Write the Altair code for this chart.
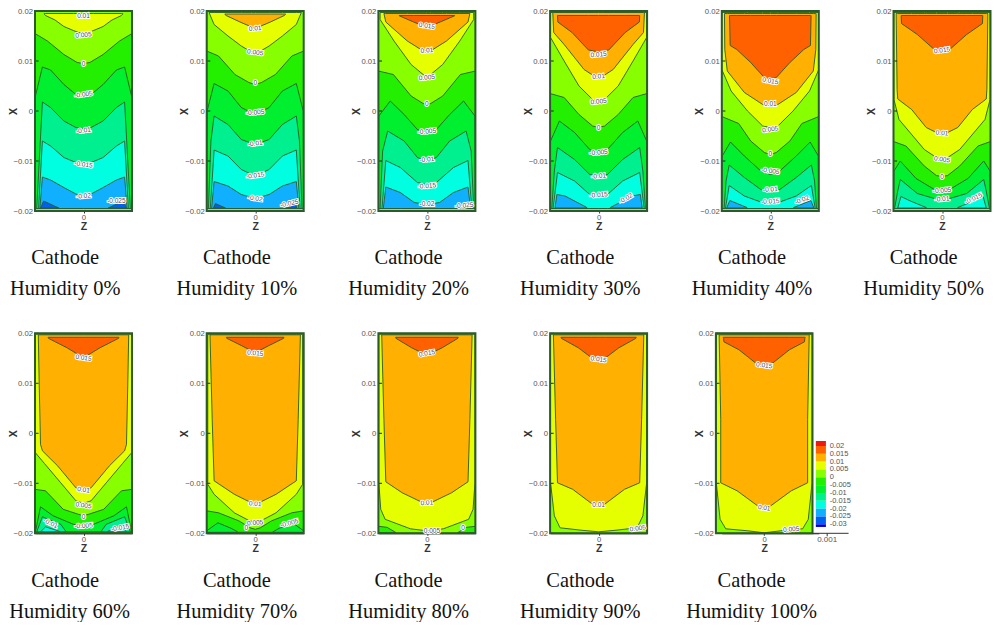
import altair as alt
import pandas as pd

# x values are in 1e-3, z values in 1e-5
BAND_LEVELS = [20, 15, 10, 5, 0, -5, -10, -15, -20, -25, -30, -35]
BAND_COLORS = ["#EE1A10", "#FF6000", "#FFB000", "#E6FF00", "#88FF00", "#22F000",
               "#00F030", "#00F090", "#00FFE0", "#10B0FF", "#0060F0", "#0000E0"]
TICK_TEXT = ["0.02", "0.015", "0.01", "0.005", "0", "-0.005", "-0.01", "-0.015", "-0.02", "-0.025", "-0.03"]
HUMIDITY = [0, 10, 20, 30, 40, 50, 60, 70, 80, 90, 100]

# (band, cap, z list, x list, twin)
P00 = [
 (5, 19.5, [62,60,45,31,16,8,0], [19.4,19.1,18.2,16.9,16.1,15.7,15.5], 0),
 (-5, -19.5, [76.7,57,31,10,0], [15.5,14,11.3,9.7,9.5], 0),
 (-10, -19.5, [76.7,76,65,52,31,12,0], [-19.5,3,8.8,8.2,5.3,3.3,3.1], 0),
 (-15, -19.5, [74,70,65,52,31,12,0], [-19.5,-10,1.8,0.7,-2,-3.3,-3.5], 0),
 (-20, -19.5, [71,65,52,31,12,0], [-19.5,-6,-7,-9.3,-10.3,-10.7], 0),
 (-25, -19.5, [69,65,52,31,12,0], [-19.5,-13.2,-13.8,-15.3,-16.6,-17], 0),
 (-30, -19.4, [68,63,39], [-19.4,-18,-19.4], 1),
]
P01 = [
 (5, 19.7, [73,65,43,22,6,0], [19.7,17.3,15,13,11.8,11.7], 0),
 (10, 19.4, [48,46,24,0], [19.35,19.1,17.8,16.5], 0),
 (-5, -19.5, [76.7,58,32,10,0], [12,11,7.3,5.7,5.3], 0),
 (-10, -19.5, [76.7,76,65,43,22,8,0], [-19.5,0,5.5,4,0.7,-0.2,-0.4], 0),
 (-15, -19.5, [74,70,65,43,22,0], [-19.5,-6,-1,-2.7,-5.7,-6.7], 0),
 (-20, -19.5, [71,65,43,22,0], [-19.5,-7.8,-9,-11.7,-13], 0),
 (-25, -19.5, [69,65,43,22,0], [-19.5,-14.1,-15,-16.7,-17.5], 0),
 (-30, -19.4, [66,63,47], [-19.4,-18.5,-19.4], 1),
]
P02 = [
 (5, 19.7, [74,52,25,6,0], [18.3,14,9.3,7.3,6.9], 0),
 (10, 19.5, [68,65,31,9.5,0], [19.5,17.8,14,12.3,12], 0),
 (15, 19.1, [44,43,21,0], [19.05,19,17.8,16.7], 0),
 (-5, -19.5, [76.7,53,25,6,0], [8,7.3,3,1.5,1.3], 0),
 (-10, -19.5, [76.7,76,58,36,15,0], [-19.5,-1,2,-0.7,-3.7,-4.3], 0),
 (-15, -19.5, [74,70,62,36,15,0], [-19.5,-8,-4,-6,-9.3,-10], 0),
 (-20, -19.5, [71,65,42,15,0], [-19.5,-9.9,-11.3,-14.3,-14.7], 0),
 (-25, -19.5, [69,65,42,20,0], [-19.5,-15.2,-16.3,-18.3,-18.7], 0),
]
P03 = [
 (5, 19.7, [76,54.5,31,9.5,0], [14.7,10,5,2.3,1.8], 0),
 (10, 19.7, [72.5,71,54.5,23,6,0], [19.7,15.7,13.3,8.3,6.9,6.7], 0),
 (15, 19.1, [65,64.5,42,16,0], [19.05,17.8,15.7,12.2,11.8], 0),
 (-5, -19.5, [76.7,54.5,31,9.5,0], [3.5,2.7,-0.7,-3,-3.3], 0),
 (-10, -19.5, [76.7,76,62,38,14,0], [-19.5,-6,-2,-4.3,-7.7,-8.5], 0),
 (-15, -19.5, [74,70,65,38,14,0], [-19.5,-12,-7.3,-9.7,-12.7,-13], 0),
 (-20, -19.5, [72,65,38,14,0], [-19.5,-12.3,-14,-16.7,-17], 0),
 (-25, -19.4, [69,66,53,18.5], [-19.4,-16.7,-17,-19.3], 1),
]
P04 = [
 (5, 19.7, [76.7,62,36,12,0], [8.3,4,0,-3,-3.3], 0),
 (10, 19.5, [72.5,72,68,41,12,0], [19.5,12.3,8,3.7,1.3,0.9], 0),
 (15, 19.1, [64.5,63.5,53,31,9.5,0], [19.05,13.1,12.3,9.7,6.7,6.3], 0),
 (-5, -19.5, [76.7,50,31,9.5,0], [-1.1,-2.5,-6,-8.3,-8.7], 0),
 (-10, -19.5, [76.7,76,63,41,15,0], [-19.5,-9,-6.2,-9,-12,-12.7], 0),
 (-15, -19.5, [73,70,65,41,15,0], [-19.5,-14,-10.8,-13.3,-15.7,-16], 0),
 (-20, -19.5, [71,65,41,15,0], [-19.5,-14.9,-17,-18.2,-18.3], 0),
 (-25, -19.4, [69,64,37], [-19.4,-17.9,-19.3], 1),
]
P05 = [
 (5, 19.7, [76,68,28,9,0], [2.3,-1.7,-7.7,-9.3,-9.5], 0),
 (10, 19.5, [72.5,71,70,48,25,9,0], [19.5,4.3,2.4,0.3,-3.3,-4.3,-4.9], 0),
 (15, 19.1, [64.5,64,39,9.5,0], [19.05,17.5,15.3,12,11.7], 0),
 (-5, -19.5, [76.7,57,28,9,0], [-6.1,-7,-11,-12.9,-13.1], 0),
 (-10, -19.5, [76.7,76,66,41,12,0], [-19.5,-12,-10,-13.5,-15.7,-16], 0),
 (-15, -19.5, [75,70,66,39,12,0], [-19.5,-16,-13.7,-16.5,-17.5,-17.9], 0),
 (-20, -19.4, [70,65,50,25], [-19.4,-17.1,-18,-19.3], 1),
]
P06 = [
 (5, 19.8, [76,62,36,12,0], [-3.9,-6,-9.9,-13.5,-14], 0),
 (10, 19.7, [71.5,70,68,65,41,12,0], [19.7,9.5,-2.2,-3.5,-6.5,-10.9,-11.3], 0),
 (15, 19.2, [56,55.5,26,0], [19.15,19,17.1,15.1], 0),
 (-5, -19.7, [76.7,60,32,8,0], [-11.2,-11.5,-15.2,-16.2,-16.5], 0),
 (-10, -19.7, [76,68,48,16,0], [-19.7,-14.7,-16.5,-18.2,-18.5], 0),
 (-15, -19.7, [74,65,36,28], [-19.7,-16.7,-18.2,-19.6], 1),
 (-20, -19.7, [68,60,38], [-19.7,-18.7,-19.6], 1),
]
P07 = [
 (5, 19.8, [75,65,33,9,0], [-10.2,-12.2,-15.9,-17.5,-17.7], 0),
 (10, 19.7, [71.5,68,65,33,6,0], [19.7,2.8,-9.5,-12.2,-13.9,-14.1], 0),
 (15, 19.2, [45.5,45,21,0], [19.15,19,17.5,16.1], 0),
 (-5, -19.8, [76.7,58,26,8,0], [-15.5,-15.9,-17.5,-18.9,-19.2], 0),
 (-10, -19.8, [76.7,59,38,28], [-19.5,-17.9,-19,-19.7], 1),
]
P08 = [
 (5, 19.8, [76,73,66,26,0], [-9.9,-15.2,-17.2,-19.1,-19.5], 0),
 (10, 19.7, [71.5,68,65,39,9.5,0], [19.7,2.8,-9.7,-11.9,-13.7,-14], 0),
 (15, 19.2, [49.5,49,24,0], [19.15,19,17.1,15.6], 0),
 (-5, -19.9, [76.7,63,49], [-18.6,-18.8,-19.85], 1),
]
P09 = [
 (5, 19.8, [76,70,61,26,0], [-9.9,-16.5,-18.9,-19.4,-19.7], 0),
 (10, 19.7, [71.5,68,65,41,9.5,0], [19.7,2.8,-9.9,-11.2,-14.2,-14.5], 0),
 (15, 19.2, [59.5,59,32,11,0], [19.15,19,17.1,15.1,14.3], 0),
]
P10 = [
 (5, 19.8, [76,70,61,26,0], [-9.9,-17.2,-19.1,-19.5,-19.9], 0),
 (10, 19.7, [71.5,69,69,43,10.5,0], [19.7,2.8,-9.9,-11.5,-14.5,-14.9], 0),
 (15, 19.2, [65,64.5,64,40,14,0], [19.15,19,18.3,16.7,14.1,13.5], 0),
]

# (z, x, text, angle)
L00 = [(0,19.1,"0.01",0),(0,15.2,"0.005",355),(0,9.5,"0",0),(0,3.3,"-0.005",352),(0,-3.9,"-0.01",352),(0,-10.7,"-0.015",8),(0,-17,"-0.02",355),(52,-18,"-0.025",0)]
L01 = [(0,16.5,"0.01",355),(0,11.7,"0.005",8),(0,5.7,"0",0),(0,-0.3,"-0.005",355),(0,-6.5,"-0.01",352),(0,-12.9,"-0.015",352),(0,-17.5,"-0.02",8),(54,-18.5,"-0.025",348)]
L02 = [(0,17,"0.015",8),(0,12.1,"0.01",355),(0,6.7,"0.005",355),(0,1.5,"0",0),(0,-4.1,"-0.005",355),(0,-9.7,"-0.01",355),(0,-15,"-0.015",355),(0,-18.5,"-0.02",0),(59,-18.9,"-0.025",355)]
L03 = [(0,11.3,"0.015",355),(0,6.9,"0.01",355),(0,1.9,"0.005",355),(0,-3.3,"0",0),(0,-8.3,"-0.005",355),(0,-13,"-0.01",355),(0,-16.8,"-0.015",355),(43,-17.5,"-0.02",330)]
L04 = [(0,6,"0.015",10),(0,1.5,"0.01",0),(0,-3.7,"0.005",352),(0,-8.5,"0",0),(0,-12,"-0.005",8),(0,-15.7,"-0.01",357),(0,-18.1,"-0.015",357),(50,-17.8,"-0.02",340)]
L05 = [(0,12.1,"0.015",352),(0,-4.4,"0.01",5),(0,-9.7,"0.005",8),(0,-13.2,"0",0),(0,-15.9,"-0.005",355),(0,-17.6,"-0.01",355),(50,-17.5,"-0.015",335)]
L06 = [(0,15.1,"0.015",8),(0,-11.3,"0.01",8),(0,-14.4,"0.005",8),(0,-16.7,"0",0),(0,-18.5,"-0.005",357),(-52,-18,"-0.01",25),(58,-18.9,"-0.015",350)]
L07 = [(0,16,"0.015",5),(0,-14.1,"0.01",5),(0,-17.9,"0.005",355),(-14,-18.9,"0",0),(54,-18,"-0.005",345)]
L08 = [(0,16,"0.015",350),(0,-13.9,"0.01",357),(8,-19.5,"0.005",0),(57,-18.9,"0",0)]
L09 = [(0,14.8,"0.015",8),(0,-14.3,"0.01",0),(62,-19,"0.005",352)]
L10 = [(0,13.6,"0.015",8),(0,-14.9,"0.01",8),(43,-19.2,"0.005",355)]

PANELS = [P00, P01, P02, P03, P04, P05, P06, P07, P08, P09, P10]
LABELS = [L00, L01, L02, L03, L04, L05, L06, L07, L08, L09, L10]

HALF = 76.7
COLOR = alt.Scale(domain=[str(b) for b in BAND_LEVELS], range=BAND_COLORS)
INK = "#2b5a2b"
TEXT = "#555555"


def polygons(polys):
    rows = []
    all_polys = [(0, 20, [HALF, 0], [-20, -20], 0)] + polys
    for i, (band, cap, zs, xs, twin) in enumerate(all_polys):
        left = [(-z, x) for z, x in zip(zs, xs)]
        if twin:
            right = sorted((z, x) for z, x in zip(zs, xs))
            parts = [left, right]
        else:
            right = [(z, x) for z, x in zip(zs, xs) if z != 0][::-1]
            parts = [left + right]
        for j, part in enumerate(parts):
            for z, x in part:
                rows.append(dict(p=f"{i:02d}-{j}", band=str(band), z=z * 1e-5, x=x * 1e-3, cap=cap * 1e-3))
    return pd.DataFrame(rows)


def panel(k):
    last = k == 10
    zdom = [-0.000673, 0.000867] if last else [-HALF * 1e-5, HALF * 1e-5]
    zs = alt.Scale(domain=zdom, nice=False, zero=False)
    xs = alt.Scale(domain=[-0.02, 0.02], nice=False, zero=False)
    zaxis = alt.Axis(values=[0], title="Z", format="~g", grid=False, labelFont="Liberation Sans",
                     labelFontSize=7.7, labelColor=TEXT, tickColor="#333", tickSize=2, labelPadding=0, domainColor="#333",
                     titleFont="Liberation Sans", titleFontSize=10.5, titleFontWeight="bold", titleColor="#333",
                     titleX=42.4 if last else 48.5, titleY=18, titleBaseline="alphabetic", titleAnchor="start", titleAlign="center")
    xaxis = alt.Axis(values=[-0.02, -0.01, 0, 0.01, 0.02], title="X", format="~g", grid=False, labelFont="Liberation Sans",
                     labelFontSize=7.7, labelColor=TEXT, ticks=False, labelPadding=2.5, domain=False,
                     offset=6 if last else 0,
                     titleFont="Liberation Sans", titleFontSize=10.5, titleFontWeight="bold", titleColor="#333",
                     titleX=-17 if not last else -11, titleY=100, titleAnchor="start", titleAlign="center")
    Z = alt.X("z:Q", scale=zs, axis=zaxis)
    X = alt.Y("x:Q", scale=xs, axis=xaxis)

    areas = alt.Chart(polygons(PANELS[k])).mark_area(stroke=INK, strokeWidth=0.9, opacity=1, clip=not last).encode(
        x=Z, y=X, y2="cap:Q", detail="p:N", color=alt.Color("band:N", scale=COLOR, legend=None))

    ticks = pd.DataFrame({"z": [-HALF * 1e-5] * 5, "z2": [-71e-5] * 5, "x": [-0.02, -0.01, 0, 0.01, 0.02]})
    tick_layer = alt.Chart(ticks).mark_rule(color="#222", strokeWidth=1).encode(x=Z, x2="z2:Q", y=X)

    frame_df = pd.DataFrame({"z": [-HALF * 1e-5], "z2": [HALF * 1e-5], "x": [-0.02], "x2": [0.02]})
    frame = alt.Chart(frame_df).mark_rect(filled=False, stroke=INK, strokeWidth=2).encode(x=Z, x2="z2:Q", y=X, y2="x2:Q")

    lab = pd.DataFrame([dict(z=a * 1e-5, x=b * 1e-3, t=c, ang=d) for a, b, c, d in LABELS[k]])
    halos = alt.Chart(lab).mark_text(font="Liberation Sans", fontSize=6.5, color="white", stroke="white", strokeWidth=2).encode(
        x=Z, y=X, text="t:N", angle=alt.Angle("ang:Q", scale=None))
    texts = alt.Chart(lab).mark_text(font="Liberation Sans", fontSize=6.5, color="#4a4a66").encode(
        x=Z, y=X, text="t:N", angle=alt.Angle("ang:Q", scale=None))

    zc = -0.0002 if last else -0.00029
    zh = zc + 0.00007 if k == 6 else zc
    cap_df = pd.DataFrame({"z": [zc, zh], "x": [-0.03066, -0.03686], "t": ["Cathode", f"Humidity {HUMIDITY[k]}%"]})
    caps = alt.Chart(cap_df).mark_text(font="Liberation Serif", fontSize=20.4, color="#111", baseline="alphabetic").encode(
        x=Z, y=X, text="t:N")

    layers = [areas, tick_layer, frame, halos, texts, caps]
    if last:
        def bar_x(level):
            return (-2.54 + (level - 20) * 15.66 / 50) * 1e-3
        tops = [23.2] + [20 - 5 * i for i in range(11)]
        bots = [20 - 5 * i for i in range(11)] + [-31.7]
        bar = pd.DataFrame({"z": [0.00082] * 12, "z2": [0.00098] * 12,
                            "x": [bar_x(t) for t in tops], "x2": [bar_x(b) for b in bots],
                            "band": [str(b) for b in BAND_LEVELS]})
        layers.append(alt.Chart(bar).mark_rect().encode(x=Z, x2="z2:Q", y=X, y2="x2:Q",
                                                        color=alt.Color("band:N", scale=COLOR, legend=None)))
        bl = pd.DataFrame({"z": [0.00104] * 11, "x": [bar_x(20 - 5 * i) for i in range(11)], "t": TICK_TEXT})
        layers.append(alt.Chart(bl).mark_text(font="Liberation Sans", fontSize=7.5, color=TEXT, align="left").encode(
            x=Z, y=X, text="t:N"))
        ext = pd.DataFrame({"z": [0.000767, 0.001], "z2": [0.00134, 0.001], "x": [-0.02, -0.02], "x2": [-0.02, -0.0206]})
        layers.append(alt.Chart(ext).mark_rule(color="#333", strokeWidth=1).encode(x=Z, x2="z2:Q", y=X, y2="x2:Q"))
        tick_txt = pd.DataFrame({"z": [0.001], "x": [-0.0214], "t": ["0.001"]})
        layers.append(alt.Chart(tick_txt).mark_text(font="Liberation Sans", fontSize=8, color=TEXT).encode(
            x=Z, y=X, text="t:N"))
    return alt.layer(*layers).properties(width=97, height=200)


chart = alt.concat(*[panel(i) for i in range(11)], columns=6, spacing={"row": 122.3, "column": 74.7},
                   bounds="flush", align="none").properties(
    padding={"left": 0, "top": -1, "right": 0, "bottom": 0}, background="white"
).configure_view(stroke=None)
chart.save("out.html", embed_options={"renderer": "svg", "actions": False})
